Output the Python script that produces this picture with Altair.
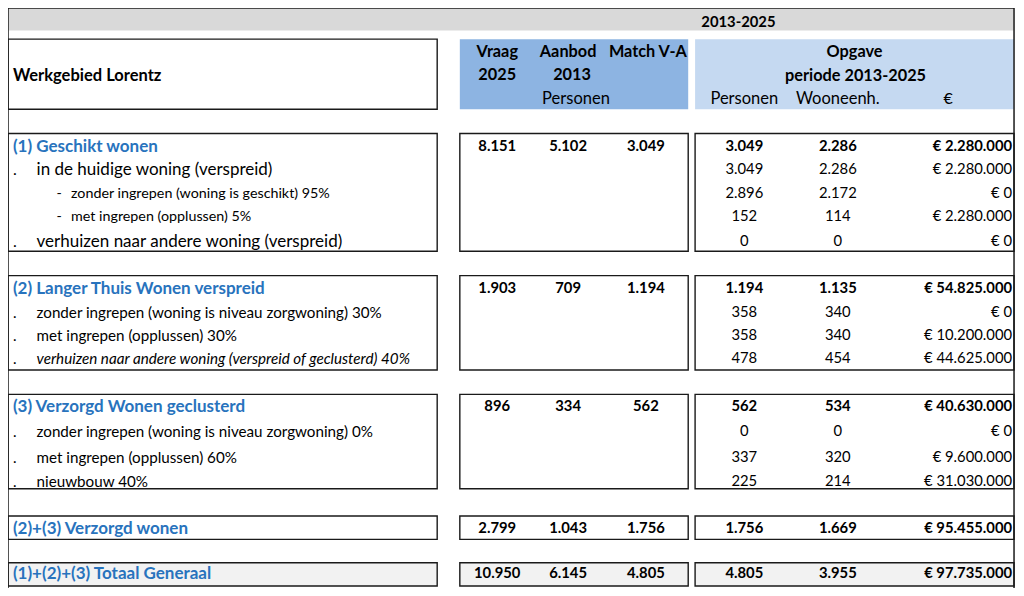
import altair as alt
import pandas as pd

# ---------------- data ----------------
PERIOD = "2013-2025"
AREA = "Werkgebied Lorentz"
MID_HEAD_1 = ["Vraag", "Aanbod", "Match V-A"]
MID_HEAD_2 = ["2025", "2013", ""]
MID_UNIT = "Personen"
RIGHT_HEAD = ["Opgave", "periode 2013-2025"]
RIGHT_UNITS = ["Personen", "Wooneenh.", "€"]

labels = [
    "(1) Geschikt wonen",
    "in de huidige woning (verspreid)",
    "zonder ingrepen (woning is geschikt) 95%",
    "met ingrepen (opplussen) 5%",
    "verhuizen naar andere woning (verspreid)",
    "(2) Langer Thuis Wonen verspreid",
    "zonder ingrepen (woning is niveau zorgwoning) 30%",
    "met ingrepen (opplussen) 30%",
    "verhuizen naar andere woning (verspreid of geclusterd) 40%",
    "(3) Verzorgd Wonen geclusterd",
    "zonder ingrepen (woning is niveau zorgwoning) 0%",
    "met ingrepen (opplussen) 60%",
    "nieuwbouw 40%",
    "(2)+(3) Verzorgd wonen",
    "(1)+(2)+(3) Totaal Generaal",
]
kinds = ["section", "item", "sub", "sub", "item",
         "section", "item2", "item2", "item2i",
         "section", "item2", "item2", "item2",
         "section", "section"]

vraag_2025 = [8151, None, None, None, None, 1903, None, None, None, 896, None, None, None, 2799, 10950]
aanbod_2013 = [5102, None, None, None, None, 709, None, None, None, 334, None, None, None, 1043, 6145]
match_va = [3049, None, None, None, None, 1194, None, None, None, 562, None, None, None, 1756, 4805]
opgave_personen = [3049, 3049, 2896, 152, 0, 1194, 358, 358, 478, 562, 0, 337, 225, 1756, 4805]
opgave_wooneenh = [2286, 2286, 2172, 114, 0, 1135, 340, 340, 454, 534, 0, 320, 214, 1669, 3955]
opgave_euro = [2280000, 2280000, 0, 2280000, 0, 54825000, 0, 10200000, 44625000,
               40630000, 0, 9600000, 31030000, 95455000, 97735000]

# ---------------- layout (reference pixel grid) ----------------
FONT = "Lato"
BLUE = "#2873bd"
ROW_Y = [143, 166, 191, 215, 240, 289, 313, 337, 361, 410, 436, 462, 487, 535, 582]
BLOCKS = [(129, 250), (275, 372), (397, 494), (522, 546), (570, 594)]
COLS = [(0, 436), (459, 691), (698, 1022)]
MID_X = [497, 569, 648]
RIGHT_X = [748, 843]
EURO_X = 1020


def nl(v):
    return f"{v:,}".replace(",", ".")


rows = []


def add(x, y, text, size=14, color="#000000", weight="normal", style="normal", align="left"):
    rows.append(dict(x=x, y=y, text=text, size=size, color=color,
                     weight=weight, style=style, align=align))


HEAD = 16.3
NUM = 14.8

# header
add(742, 15, PERIOD, 14.8, weight="bold", align="center")
add(5, 70, AREA, 16.5, weight="bold")
for i in range(3):
    add(MID_X[i] + (2 if i == 2 else 0), 45, MID_HEAD_1[i], HEAD, weight="bold", align="center")
    if MID_HEAD_2[i]:
        add(MID_X[i] + (4 if i == 1 else 0), 69, MID_HEAD_2[i], HEAD, weight="bold", align="center")
add(577, 94, MID_UNIT, 16.5, align="center")
add(860, 45, RIGHT_HEAD[0], HEAD, weight="bold", align="center")
add(861, 70, RIGHT_HEAD[1], HEAD, weight="bold", align="center")
add(RIGHT_X[0], 94, RIGHT_UNITS[0], 16.5, align="center")
add(RIGHT_X[1], 94, RIGHT_UNITS[1], 16.5, align="center")
add(955, 94, RIGHT_UNITS[2], 16, align="center")

# body
for i, lab in enumerate(labels):
    y = ROW_Y[i]
    k = kinds[i]
    bold = k == "section"
    w = "bold" if bold else "normal"
    if k == "section":
        add(5, y, lab, 17, color=BLUE, weight="bold")
    elif k == "item":
        add(5, y, ".", 16)
        add(29, y, lab, 17)
    elif k == "sub":
        add(52, y, "-", 14.3, align="center")
        add(64, y, lab, 14.3)
    else:
        add(5, y, ".", 15)
        add(29, y, lab, 15.2, style="italic" if k == "item2i" else "normal")
    for j, col in enumerate([vraag_2025, aanbod_2013, match_va]):
        if col[i] is not None:
            add(MID_X[j], y, nl(col[i]), NUM, weight=w, align="center")
    add(RIGHT_X[0], y, nl(opgave_personen[i]), NUM, weight=w, align="center")
    add(RIGHT_X[1], y, nl(opgave_wooneenh[i]), NUM, weight=w, align="center")
    add(EURO_X, y, "€ " + nl(opgave_euro[i]), NUM, weight=w, align="right")

texts = pd.DataFrame(rows)

# rectangles
fills = []
outlines = []
fills.append(dict(x=0, x2=1022, y=0, y2=23, fill="#d9d9d9"))
fills.append(dict(x=COLS[1][0], x2=COLS[1][1], y=32, y2=104, fill="#8db4e2"))
fills.append(dict(x=COLS[2][0], x2=COLS[2][1], y=32, y2=104, fill="#c5d9f1"))
outlines.append(dict(x=COLS[0][0], x2=COLS[0][1], y=32, y2=104))
for bi, (y0, y1) in enumerate(BLOCKS):
    for (x0, x1) in COLS:
        if bi == len(BLOCKS) - 1:
            fills.append(dict(x=x0, x2=x1, y=y0, y2=y1, fill="#f2f2f2"))
        outlines.append(dict(x=x0, x2=x1, y=y0, y2=y1))
fills = pd.DataFrame(fills)
outlines = pd.DataFrame(outlines)
frame = pd.DataFrame([
    dict(x=0, x2=0, y=0, y2=596),
    dict(x=1022, x2=1022, y=0, y2=596),
    dict(x=0, x2=1022, y=0, y2=0),
])

xs = alt.Scale(domain=[0, 1024], range=[0, 1008], nice=False, zero=False)
ys = alt.Scale(domain=[0, 596], range=[0, 580], nice=False, zero=False)

X = alt.X("x:Q", scale=xs, axis=None)
Y = alt.Y("y:Q", scale=ys, axis=None)

fill_layer = alt.Chart(fills).mark_rect(strokeWidth=0).encode(
    x=X, x2="x2:Q", y=Y, y2="y2:Q", fill=alt.Fill("fill:N", scale=None, legend=None)
)
outline_layer = alt.Chart(outlines).mark_rect(filled=False, color="#1a1a1a", strokeWidth=1.4).encode(
    x=X, x2="x2:Q", y=Y, y2="y2:Q"
)
frame_layer = alt.Chart(frame).mark_rule(color="#1a1a1a", strokeWidth=1.5).encode(
    x=X, x2="x2:Q", y=Y, y2="y2:Q"
)

layers = [fill_layer, outline_layer, frame_layer]
for (w, s, a), sub in texts.groupby(["weight", "style", "align"]):
    layers.append(
        alt.Chart(sub).mark_text(font=FONT, fontWeight=w, fontStyle=s, align=a, baseline="middle").encode(
            x=X, y=Y, text="text:N",
            size=alt.Size("size:Q", scale=None, legend=None),
            color=alt.Color("color:N", scale=None, legend=None),
        )
    )

chart = alt.layer(*layers).properties(
    width=1008, height=580, padding=0,
    autosize=alt.AutoSizeParams(type="none"),
    background="white",
).configure_view(strokeWidth=0)

chart.save("out.html", embed_options={"renderer": "svg", "actions": False})
